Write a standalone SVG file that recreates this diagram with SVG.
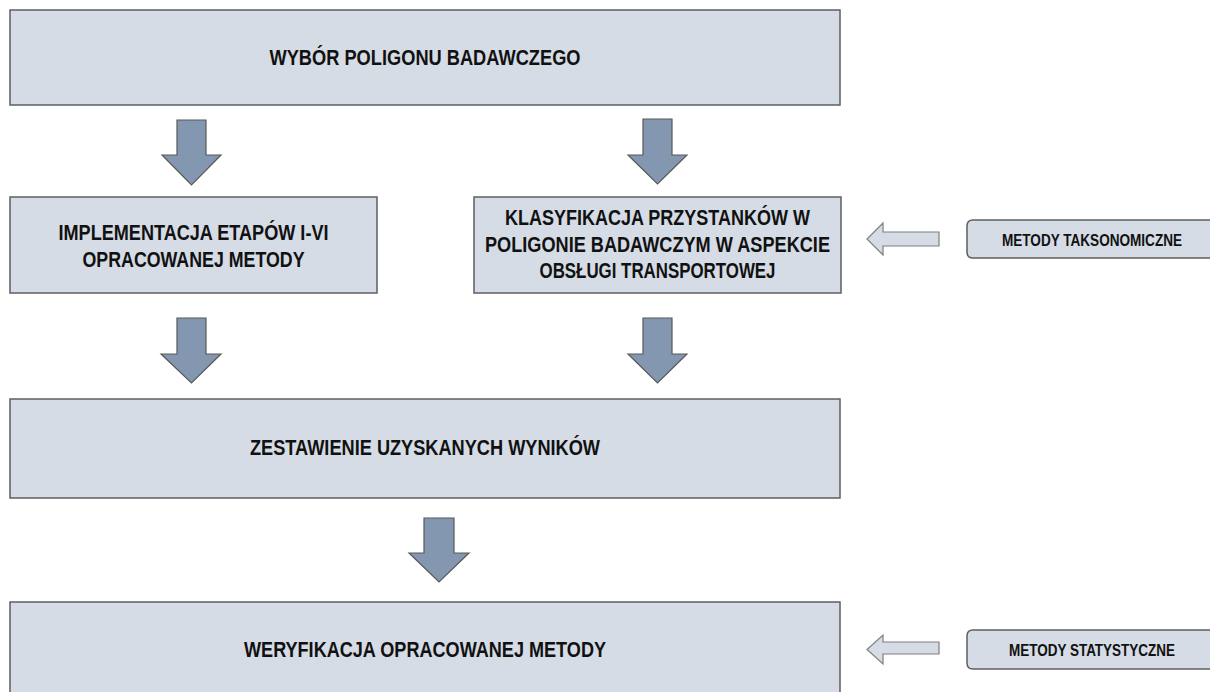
<svg xmlns="http://www.w3.org/2000/svg" width="1210" height="692" viewBox="0 0 1210 692">
<style>
.box{fill:#D5DCE6;stroke:#5E5E5E;stroke-width:1.5}
.sbox{fill:#D5DCE6;stroke:#5E5E5E;stroke-width:1.5}
.arr{fill:#8497B0;stroke:#595959;stroke-width:1.2}
.harr{fill:#D5DCE6;stroke:#7F7F7F;stroke-width:1.2}
.t{font-family:"Liberation Sans Narrow","Liberation Sans",Arial,sans-serif;font-weight:bold;fill:#111;text-anchor:middle}
.m{font-size:21.5px}
.s{font-size:17px}
</style>
<rect x="0" y="0" width="1210" height="692" fill="#FFFFFF"/>
<g id="n1">
<rect class="box" x="10" y="10" width="830" height="95"/>
<text class="t m" x="425" y="65" textLength="311" lengthAdjust="spacingAndGlyphs">WYBÓR POLIGONU BADAWCZEGO</text>
</g>
<g id="n2">
<rect class="box" x="10" y="197" width="367" height="96"/>
<text class="t m" x="193.5" y="240" textLength="270" lengthAdjust="spacingAndGlyphs">IMPLEMENTACJA ETAPÓW I-VI</text>
<text class="t m" x="193.5" y="267" textLength="222" lengthAdjust="spacingAndGlyphs">OPRACOWANEJ METODY</text>
</g>
<g id="n3">
<rect class="box" x="474" y="197" width="367" height="96"/>
<text class="t m" x="657.5" y="225" textLength="305" lengthAdjust="spacingAndGlyphs">KLASYFIKACJA PRZYSTANKÓW W</text>
<text class="t m" x="657.5" y="252" textLength="345" lengthAdjust="spacingAndGlyphs">POLIGONIE BADAWCZYM W ASPEKCIE</text>
<text class="t m" x="657.5" y="278" textLength="236" lengthAdjust="spacingAndGlyphs">OBSŁUGI TRANSPORTOWEJ</text>
</g>
<g id="n4">
<rect class="box" x="10" y="399" width="830" height="99"/>
<text class="t m" x="425" y="455" textLength="350" lengthAdjust="spacingAndGlyphs">ZESTAWIENIE UZYSKANYCH WYNIKÓW</text>
</g>
<g id="n5">
<path class="box" d="M10,692 V602 H840 V692"/>
<text class="t m" x="425" y="657" textLength="362" lengthAdjust="spacingAndGlyphs">WERYFIKACJA OPRACOWANEJ METODY</text>
</g>
<g id="n6">
<path class="sbox" d="M1210,220 H973 Q967,220 967,226 V252 Q967,258 973,258 H1210"/>
<text class="t s" x="1092" y="246" textLength="180" lengthAdjust="spacingAndGlyphs">METODY TAKSONOMICZNE</text>
</g>
<g id="n7">
<path class="sbox" d="M1210,630 H973 Q967,630 967,636 V663 Q967,669 973,669 H1210"/>
<text class="t s" x="1092" y="656" textLength="166" lengthAdjust="spacingAndGlyphs">METODY STATYSTYCZNE</text>
</g>
<g id="connectors">
<polygon class="arr" points="177,120 206,120 206,155 221,155 191.5,185 162,155 177,155"/>
<polygon class="arr" points="643,119 672,119 672,155 687,155 657.5,184 628,155 643,155"/>
<polygon class="arr" points="177,318 206,318 206,354 221,354 191.5,383 161,354 177,354"/>
<polygon class="arr" points="643,318 672,318 672,354 687,354 657.5,383 628,354 643,354"/>
<polygon class="arr" points="424,518 454,518 454,553 469,553 439,582 409,553 424,553"/>
<polygon class="harr" points="939,232 939,246 883,246 883,255 867,239 883,223 883,232"/>
<polygon class="harr" points="939,642 939,654 883,654 883,664 867,649.5 883,635 883,642"/>
</g>
</svg>
